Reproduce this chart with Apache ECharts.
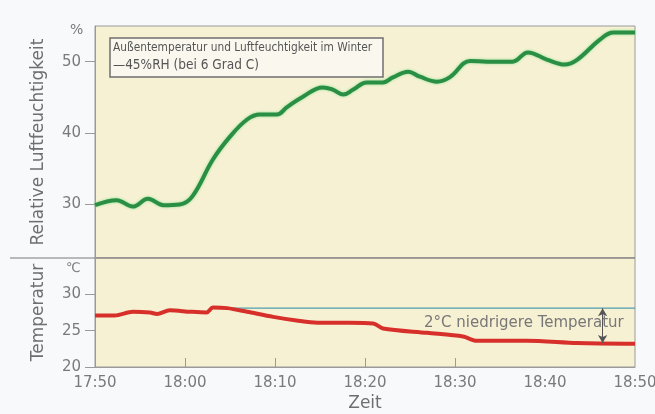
<!DOCTYPE html>
<html>
<head>
<meta charset="utf-8">
<script src="https://cdn.jsdelivr.net/npm/echarts@6/dist/echarts.min.js"></script>
<style>
  html, body { margin: 0; padding: 0; background: #f8f9fb; }
  #show_picture { width: 655px; height: 414px; }
</style>
</head>
<body>
<div id="show_picture"></div>
<script>
// minutes after 17:50
const timeLabels = ['17:50', '18:00', '18:10', '18:20', '18:30', '18:40', '18:50'];
const humLabels = [30, 40, 50];
const tempLabels = [20, 25, 30];

const humMin = [0, 2.4, 4.2, 5.9, 7.6, 9.4, 10.8, 13.1, 15.0, 16.9, 18.3, 20.2, 21.3, 23.1, 25.3, 26.4, 27.6, 28.7, 30.2, 32.0, 33.1, 34.8, 36.1, 38.0, 39.4, 41.7, 43.6, 46.4, 48.1, 50.2, 52.2, 53.6, 56.1, 57.6, 60];
const humVal = [29.9, 30.6, 29.7, 30.8, 29.9, 30.0, 31.1, 36.3, 39.5, 41.9, 42.6, 42.6, 43.6, 45.1, 46.4, 46.1, 45.4, 46.1, 47.1, 47.1, 47.8, 48.6, 47.9, 47.2, 47.8, 50.1, 50.0, 50.0, 51.3, 50.3, 49.6, 50.3, 53.1, 54.1, 54.1];

const tempMin = [0, 2.2, 4.2, 6.1, 6.9, 8.3, 10.6, 12.4, 13.1, 14.7, 16.9, 19.8, 22.4, 24.7, 28.3, 30.9, 32.0, 36.9, 40.9, 42.4, 48.0, 53.6, 60];
const tempVal = [27.1, 27.1, 27.6, 27.5, 27.3, 27.8, 27.6, 27.5, 28.2, 28.1, 27.6, 26.9, 26.4, 26.1, 26.1, 26.0, 25.3, 24.7, 24.2, 23.6, 23.6, 23.3, 23.2];

const refMin = [13.1, 60];
const refVal = [28.1, 28.1];
const arrowAt = 56.4;

let myChart = echarts.init(document.getElementById('show_picture'));
const cream = '#f7f1d4';
const grey = '#7a7a7a';
const font = 'DejaVu Sans';

let pairs = (xs, ys) => xs.map((x, i) => [x, ys[i]]);

let option = {
    animation: false,
    backgroundColor: '#f8f9fb',
    textStyle: { fontFamily: font },
    grid: [
        { left: 95, top: 26, width: 540, height: 232, show: true, backgroundColor: cream, borderColor: '#9a9a9a', borderWidth: 1, outerBoundsMode: 'none', containLabel: false },
        { left: 95, top: 258, width: 540, height: 109, show: true, backgroundColor: cream, borderColor: '#9a9a9a', borderWidth: 1, outerBoundsMode: 'none', containLabel: false }
    ],
    xAxis: [
        { gridIndex: 0, type: 'value', min: 0, max: 60, interval: 10, show: false },
        {
            gridIndex: 1, type: 'value', min: 0, max: 60, interval: 10,
            name: 'Zeit', nameLocation: 'middle', nameGap: 28,
            nameTextStyle: { color: '#6f6f6f', fontSize: 17, fontFamily: font },
            axisLine: { lineStyle: { color: '#9a9a9a' } },
            axisTick: { inside: true, length: 9, customValues: [10, 20, 30, 40], lineStyle: { color: '#9a9a9a' } },
            axisLabel: { color: grey, fontSize: 15, margin: 9, formatter: v => timeLabels[Math.round(v / 10)] },
            splitLine: { show: false }
        }
    ],
    yAxis: [
        {
            gridIndex: 0, type: 'value', min: 22.5, max: 55,
            name: 'Relative Luftfeuchtigkeit', nameLocation: 'middle', nameGap: 48,
            nameTextStyle: { color: '#6f6f6f', fontSize: 17, fontFamily: font },
            axisLine: { show: true, lineStyle: { color: '#9a9a9a' } },
            axisTick: { show: true, length: 10, customValues: humLabels, lineStyle: { color: '#9a9a9a' } },
            axisLabel: { color: grey, fontSize: 15, margin: 14, customValues: humLabels },
            splitLine: { show: false }
        },
        {
            gridIndex: 1, type: 'value', min: 20, max: 35,
            name: 'Temperatur', nameLocation: 'middle', nameGap: 48,
            nameTextStyle: { color: '#6f6f6f', fontSize: 17, fontFamily: font },
            axisLine: { show: true, lineStyle: { color: '#9a9a9a' } },
            axisTick: { show: true, length: 10, customValues: tempLabels, lineStyle: { color: '#9a9a9a' } },
            axisLabel: { color: grey, fontSize: 15, margin: 14, customValues: tempLabels },
            splitLine: { show: false }
        }
    ],
    series: [
        {
            type: 'line', xAxisIndex: 0, yAxisIndex: 0,
            data: pairs(humMin, humVal), smooth: 0.4, showSymbol: false,
            lineStyle: { color: '#2a8f45', width: 4, shadowColor: '#8fe08f', shadowBlur: 3 }
        },
        {
            type: 'line', xAxisIndex: 1, yAxisIndex: 1,
            data: pairs(refMin, refVal), showSymbol: false,
            lineStyle: { color: '#4e9fae', width: 1.2 },
            markLine: {
                silent: true, symbol: ['arrow', 'arrow'], symbolSize: [7, 8],
                lineStyle: { color: '#555', width: 1, type: 'solid' },
                label: { show: false },
                data: [[{ coord: [arrowAt, refVal[0]] }, { coord: [arrowAt, tempVal[tempVal.length - 2]] }]]
            }
        },
        {
            type: 'line', xAxisIndex: 1, yAxisIndex: 1,
            data: pairs(tempMin, tempVal), smooth: 0.3, showSymbol: false,
            lineStyle: { color: '#d7302b', width: 4 }
        }
    ],
    graphic: [
        { type: 'line', shape: { x1: 10, y1: 258, x2: 635, y2: 258 }, style: { stroke: '#7a7a7a', lineWidth: 1.2 } },
        { type: 'text', left: 70, top: 23, style: { text: '%', fill: grey, fontSize: 14, fontFamily: font } },
        { type: 'text', left: 66, top: 262, style: { text: '℃', fill: grey, fontSize: 13, fontFamily: font } },
        { type: 'rect', shape: { x: 110, y: 38, width: 273, height: 39 }, style: { fill: '#faf7ee', stroke: '#6f6f6f', lineWidth: 1.5 } },
        { type: 'text', left: 113, top: 42, style: { text: 'Außentemperatur und Luftfeuchtigkeit im Winter', fill: '#555', fontSize: 11.8, fontFamily: 'DejaVu Sans Condensed' } },
        { type: 'text', left: 113, top: 58, style: { text: '—45%RH (bei 6 Grad C)', fill: '#555', fontSize: 13.5, fontFamily: 'DejaVu Sans Condensed' } },
        { type: 'text', left: 424, top: 316, style: { text: '2°C niedrigere Temperatur', fill: '#777', fontSize: 15, fontFamily: font } }
    ]
};

option && myChart.setOption(option);
</script>
</body>
</html>
